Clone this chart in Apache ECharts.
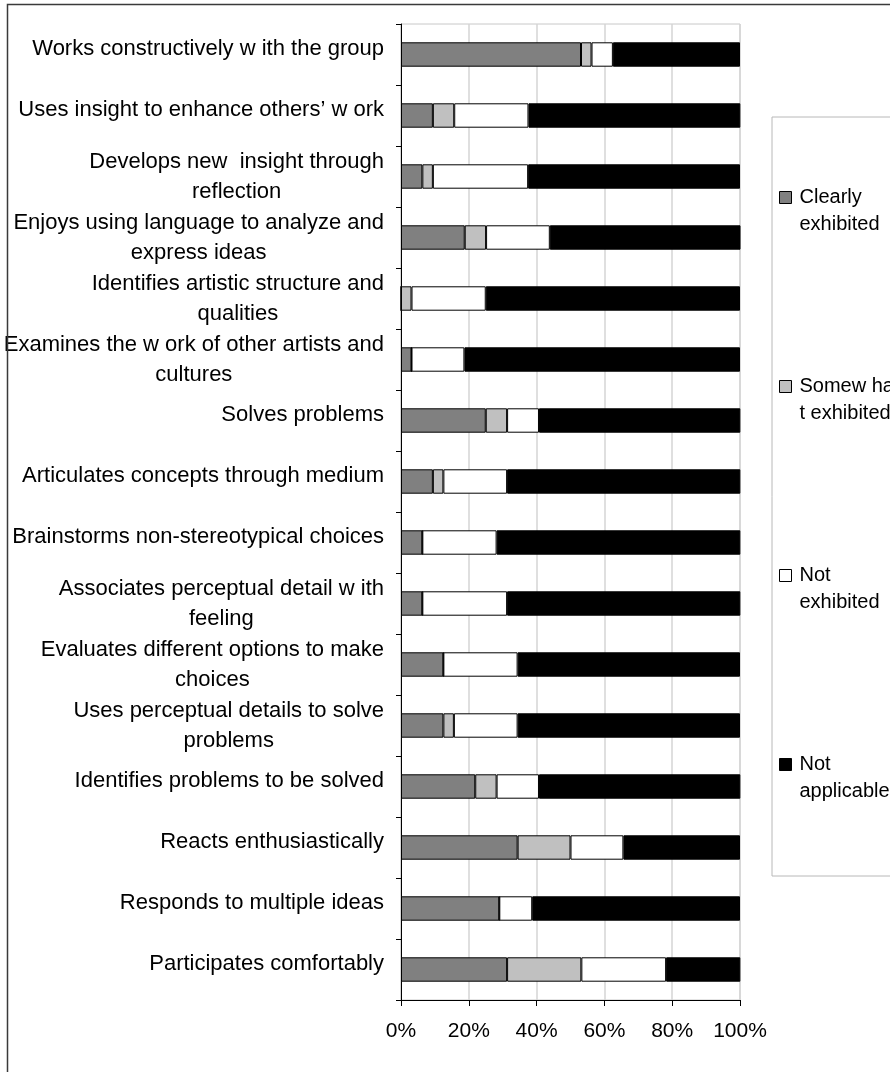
<!DOCTYPE html>
<html>
<head>
<meta charset="utf-8">
<script src="https://cdn.jsdelivr.net/npm/echarts@6/dist/echarts.min.js"></script>
<style>
html,body{margin:0;padding:0;background:#fff;}
#c{width:890px;height:1072px;}
</style>
</head>
<body>
<div id="c"></div>
<script>
// Categories, top to bottom as in the reference
const categories = [
  'Works constructively w ith the group',
  'Uses insight to enhance others\u2019 w ork',
  'Develops new  insight through\nreflection',
  'Enjoys using language to analyze and\nexpress ideas',
  'Identifies artistic structure and\nqualities',
  'Examines the w ork of other artists and\ncultures',
  'Solves problems',
  'Articulates concepts through medium',
  'Brainstorms non-stereotypical choices',
  'Associates perceptual detail w ith\nfeeling',
  'Evaluates different options to make\nchoices',
  'Uses perceptual details to solve\nproblems',
  'Identifies problems to be solved',
  'Reacts enthusiastically',
  'Responds to multiple ideas',
  'Participates comfortably'
];
// Percent values
const clearlyExhibited  = [53.1, 9.4, 6.3, 18.8, 0,   3.1, 25.0, 9.4, 6.3, 6.3, 12.5, 12.5, 21.9, 34.4, 29.0, 31.3];
const somewhatExhibited = [3.1,  6.3, 3.1, 6.3,  3.1, 0,   6.3,  3.1, 0,   0,   0,    3.1,  6.3,  15.6, 0,    21.9];
const notExhibited      = [6.3, 21.9, 28.1, 18.8, 21.9, 15.6, 9.4, 18.8, 21.9, 25.0, 21.9, 18.8, 12.5, 15.6, 9.7, 25.0];
const notApplicable     = [37.5, 62.5, 62.5, 56.3, 75.0, 81.3, 59.4, 68.8, 71.9, 68.8, 65.6, 65.6, 59.4, 34.4, 61.3, 21.9];
const seriesNames = ['Clearly\nexhibited', 'Somew ha\nt exhibited', 'Not\nexhibited', 'Not\napplicable'];
const seriesColors = ['#808080', '#c0c0c0', '#ffffff', '#000000'];
const xTickStep = 20;
const xMax = 100;

const FONT = '"Liberation Sans", Arial, sans-serif';
const values = [clearlyExhibited, somewhatExhibited, notExhibited, notApplicable];

const chart = echarts.init(document.getElementById('c'), null, {renderer: 'canvas'});
chart.setOption({
  animation: false,
  backgroundColor: '#ffffff',
  textStyle: {fontFamily: FONT, color: '#000'},
  graphic: [{
    type: 'rect',
    shape: {x: 7.5, y: 4.5, width: 1200, height: 1400},
    style: {fill: 'none', stroke: '#3a3a3a', lineWidth: 1.5},
    silent: true, z: 100
  }],
  grid: {
    left: 401, right: 150, top: 24, bottom: 72,
    show: true, borderColor: '#c8c8c8', borderWidth: 1, backgroundColor: '#fff'
  },
  legend: {
    orient: 'vertical',
    left: 772, top: 117,
    padding: [40, 200, 71, 7],
    itemWidth: 12, itemHeight: 12, itemGap: 108,
    icon: 'rect',
    borderColor: '#b8b8b8', borderWidth: 1, backgroundColor: '#fff',
    itemStyle: {borderColor: '#000', borderWidth: 1},
    formatter: function (name) { return '\n' + name; },
    textStyle: {fontFamily: FONT, fontSize: 20, lineHeight: 27, color: '#000', padding: [0, 0, 0, 3]},
    data: seriesNames
  },
  xAxis: {
    type: 'value', min: 0, max: xMax, interval: xTickStep,
    axisLine: {show: true, lineStyle: {color: '#000', width: 1}},
    axisTick: {show: true, length: 6, lineStyle: {color: '#000'}},
    splitLine: {show: true, lineStyle: {color: '#d4d4d4', width: 1.5}},
    axisLabel: {formatter: '{value}%', fontFamily: FONT, fontSize: 21, color: '#000', margin: 21}
  },
  yAxis: {
    type: 'category', inverse: true, data: categories,
    axisLine: {show: true, lineStyle: {color: '#000', width: 1}},
    axisTick: {show: true, length: 5, lineStyle: {color: '#000'}},
    splitLine: {show: false},
    axisLabel: {
      margin: 17,
      interval: 0,
      formatter: function (v) {
        const lines = v.split('\n');
        if (lines.length === 1) return '{s|' + v + '}';
        return lines.map(function (l) { return '{c|' + l + '}'; }).join('\n');
      },
      rich: {
        c: {align: 'center', fontFamily: FONT, fontSize: 22, lineHeight: 30, color: '#000'},
        s: {fontFamily: FONT, fontSize: 22, lineHeight: 30, color: '#000', padding: [0, 0, 12, 0]}
      }
    }
  },
  series: seriesNames.map(function (name, i) {
    return {
      name: name, type: 'bar', stack: 'total', barWidth: '40%',
      itemStyle: {color: seriesColors[i], borderColor: '#000', borderWidth: 1},
      data: values[i]
    };
  })
});
</script>
</body>
</html>
